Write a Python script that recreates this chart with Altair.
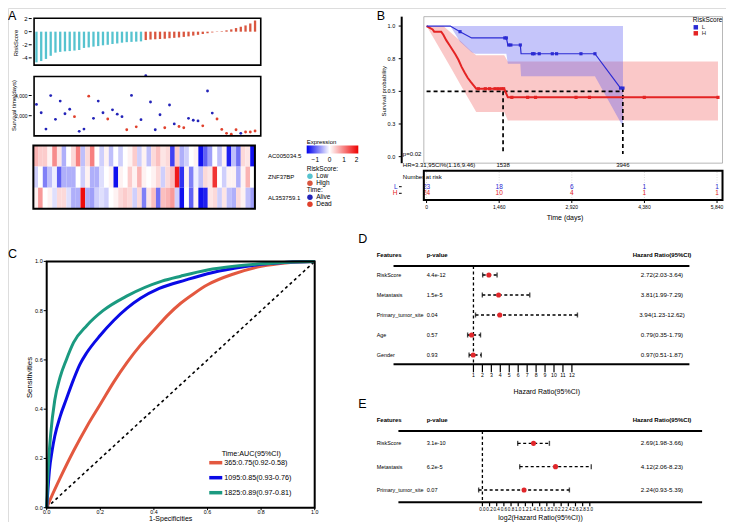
import altair as alt
import numpy as np
import pandas as pd

W, H = 718, 514
FONT = "Liberation Sans"


def P(v):
    # reference pixel -> canvas pixel (page has an 8px margin)
    return round(v - 8, 2)


# ------------------------------------------------------------------ DATA
# Panel A : risk score, survival time, expression heatmap (47 patients, sorted by risk)
risk_low = [-4.68, -4.48, -4.16, -3.68, -3.20, -3.08, -3.00, -2.96, -2.88, -2.80, -2.48, -2.40,
            -2.28, -2.20, -2.08, -2.00, -1.88, -1.80, -1.68, -1.60, -1.56, -1.52, -1.48]
risk_high = [-1.28, -1.20, -1.16, -1.12, -1.08, -1.00, -0.94, -0.88, -0.80, -0.72, -0.60, -0.48,
             -0.36, -0.24, -0.12, -0.05, 0.08, 0.20, 0.35, 0.55, 0.75, 0.95, 1.25, 1.70]
surv_days = [3121, 2290, 676, 3990, 1643, 3449, 2193, 2638, 1900, 454, 676, 3930, 1739, 3449, 2290,
             1675, 2580, 2155, 1900, 610, 4005, 900, 1610, 5960, 3353, 610, 2097, 804, 3063, 1190,
             934, 804, 1739, 1546, 1482, 997, 4444, 2258, 1675, 643, 258, 161, 610, 258, 387, 387, 483]
surv_status = ["Alive", "Alive", "Alive", "Alive", "Alive", "Alive", "Alive", "Alive", "Dead", "Alive",
               "Alive", "Dead", "Alive", "Alive", "Alive", "Dead", "Alive", "Alive", "Alive", "Dead",
               "Alive", "Dead", "Alive", "Alive", "Alive", "Alive", "Alive", "Dead", "Alive", "Alive",
               "Dead", "Dead", "Alive", "Alive", "Alive", "Dead", "Alive", "Alive", "Dead", "Dead",
               "Dead", "Dead", "Dead", "Alive", "Dead", "Dead", "Dead"]
gene_names = ["AC005034.5", "ZNF37BP", "AL353759.1"]
expr_AC005034_5 = [0.6, 0.4, 0.4, 0.1, 0.9, 0.2, -0.5, 0.0, 0.3, 1.0, -0.4, 0.3, 1.0, 0.0, -0.3, 0.1,
                   -0.4, 0.0, -0.3, 0.0, 0.1, 0.4, -0.3, 0.1, -0.4, 0.3, 0.5, 0.2, 0.3, -1.2, 0.4, -0.5,
                   -0.3, 0.0, 0.1, -1.5, -1.0, -0.6, 0.0, -0.4, 0.1, -1.4, -0.4, -0.9, 0.3, 0.2, -1.5]
expr_ZNF37BP = [-0.3, 0.0, -0.8, -0.4, -0.1, -1.0, -0.5, -0.5, -0.5, 0.0, -0.3, 0.1, -0.5, -0.5, -0.2, 0.0,
                0.1, -1.5, 0.1, 0.0, 0.4, 0.1, 0.6, 0.1, 0.0, 0.1, 0.3, -0.3, 0.3, 0.5, 1.8, -1.3,
                0.1, -0.8, -0.1, -0.4, 0.3, 0.2, 1.6, 0.0, -0.3, 0.1, 0.1, -0.5, 0.1, 0.6, 0.0]
expr_AL353759_1 = [0.1, 0.8, 0.0, 0.1, -0.2, 0.3, 0.3, -0.2, -0.5, -0.5, 1.9, -0.5, -0.6, -0.3, -0.2, -0.3,
                   0.0, 0.1, 0.3, 0.4, 0.3, -0.3, 0.3, -0.8, 0.2, 0.5, -0.9, 0.5, 0.6, 0.8, -0.3, -1.5,
                   0.0, -1.0, 0.1, -1.5, -1.4, 0.2, 0.3, -0.3, 0.2, -0.4, -0.5, 0.3, 0.1, -0.4, -0.6]
risk_groups = ["Low", "High"]
riskA_ticks, riskA_labels = [-4, -2, 0, 2], ["-4", "-2", "0", "2"]
survA_ticks, survA_labels = [2000, 4000], ["2,000", "4,000"]

# Panel B : Kaplan-Meier
km_L_day = [0, 477, 673, 906, 1573, 1604, 1634, 1885, 1900, 3385, 3900, 3949]
km_L_surv = [1.0, 1.0, 0.957, 0.909, 0.909, 0.909, 0.855, 0.855, 0.788, 0.788, 0.525, 0.525]
km_L_cens_day = [673, 1573, 1604, 1653, 1695, 1885, 2130, 2161, 2265, 2528, 2614, 3104, 3385, 3900, 3949]
km_L_cens_surv = [0.957, 0.909, 0.909, 0.855, 0.855, 0.855, 0.788, 0.788, 0.788, 0.788, 0.788, 0.788,
                  0.788, 0.525, 0.525]
km_L_ci_day = [0, 477, 673, 906, 979, 1604, 1634, 1885, 1900, 3385, 3949]
km_L_ci_lo = [1.0, 1.0, 0.88, 0.80, 0.788, 0.788, 0.711, 0.711, 0.616, 0.616, 0.229]
km_L_ci_hi = [1.0, 1.0, 1.0, 1.0, 1.0, 1.0, 1.0, 1.0, 1.0, 1.0, 1.0]

km_H_day = [0, 122, 153, 294, 337, 398, 459, 520, 581, 643, 704, 765, 826, 888, 949, 998, 1561, 1634, 5859]
km_H_surv = [1.0, 0.974, 0.957, 0.957, 0.933, 0.890, 0.855, 0.819, 0.783, 0.740, 0.687, 0.644, 0.604,
             0.573, 0.544, 0.52, 0.52, 0.454, 0.454]
km_H_cens_day = [1041, 1181, 1267, 1377, 1438, 1500, 1549, 1714, 2032, 2191, 3005, 3275, 4377, 5859]
km_H_cens_surv = [0.52, 0.52, 0.52, 0.52, 0.52, 0.52, 0.52, 0.454, 0.454, 0.454, 0.454, 0.454, 0.454, 0.454]
km_H_ci_day = [0, 153, 337, 520, 704, 888, 998, 1561, 1634, 5859]
km_H_ci_lo = [1.0, 0.90, 0.78, 0.66, 0.535, 0.415, 0.341, 0.341, 0.277, 0.277]
km_H_ci_hi = [1.0, 1.0, 1.0, 0.94, 0.878, 0.81, 0.776, 0.776, 0.728, 0.728]

median_L, median_H = 3946, 1538
km_ticks, km_labels = [0, 0.25, 0.5, 0.75, 1.0], ["0.0", "0.3", "0.5", "0.8", "1.0"]
risk_days = [0, 1460, 2920, 4380, 5840]
risk_day_labels = ["0", "1,460", "2,920", "4,380", "5,840"]
at_risk_L = [23, 18, 6, 1, 1]
at_risk_H = [24, 10, 4, 1, 1]

# Panel C : time-dependent ROC
roc_labels = ["365:0.75(0.92-0.58)", "1095:0.85(0.93-0.76)", "1825:0.89(0.97-0.81)"]
roc365_fpr = [0, 0.02, 0.05, 0.1, 0.15, 0.2, 0.25, 0.3, 0.35, 0.4, 0.45, 0.5, 0.55, 0.6, 0.7, 0.8, 0.9, 1.0]
roc365_tpr = [0, 0.05, 0.12, 0.23, 0.33, 0.42, 0.51, 0.59, 0.66, 0.72, 0.78, 0.83, 0.87, 0.905, 0.95,
              0.98, 0.995, 1.0]
roc1095_fpr = [0, 0.005, 0.01, 0.02, 0.03, 0.05, 0.073, 0.1, 0.123, 0.15, 0.2, 0.25, 0.3, 0.35, 0.42,
               0.52, 0.6, 0.7, 0.8, 0.9, 1.0]
roc1095_tpr = [0, 0.08, 0.15, 0.23, 0.29, 0.37, 0.44, 0.52, 0.58, 0.63, 0.70, 0.76, 0.81, 0.85, 0.89,
               0.925, 0.95, 0.972, 0.988, 0.997, 1.0]
roc1825_fpr = [0, 0.003, 0.008, 0.015, 0.03, 0.05, 0.073, 0.1, 0.15, 0.21, 0.3, 0.43, 0.5, 0.6, 0.7,
               0.8, 0.9, 1.0]
roc1825_tpr = [0, 0.10, 0.20, 0.30, 0.436, 0.53, 0.60, 0.67, 0.74, 0.80, 0.86, 0.92, 0.94, 0.965,
               0.98, 0.99, 0.997, 1.0]
roc_ticks, roc_tick_labels = [0, 0.2, 0.4, 0.6, 0.8, 1.0], ["0.0", "0.2", "0.4", "0.6", "0.8", "1.0"]

# Panel D : univariate Cox
feat_D = ["RiskScore", "Metastasis", "Primary_tumor_site", "Age", "Gender"]
p_D = ["4.4e-12", "1.5e-5", "0.04", "0.57", "0.93"]
hr_D = [2.72, 3.81, 3.94, 0.79, 0.97]
lo_D = [2.03, 1.99, 1.23, 0.35, 0.51]
hi_D = [3.64, 7.29, 12.62, 1.79, 1.87]
ticks_D = [1, 2, 3, 4, 5, 6, 7, 8, 9, 10, 11, 12]
tick_labels_D = ["1", "2", "3", "4", "5", "6", "7", "8", "9", "10", "11", "12"]

# Panel E : multivariate Cox
feat_E = ["RiskScore", "Metastasis", "Primary_tumor_site"]
p_E = ["3.1e-10", "6.2e-5", "0.07"]
hr_E = [2.69, 4.12, 2.24]
lo_E = [1.98, 2.06, 0.93]
hi_E = [3.66, 8.23, 5.39]
ticks_E = [0.0, 0.2, 0.4, 0.6, 0.8, 1.0, 1.2, 1.4, 1.6, 1.8, 2.0, 2.2, 2.4, 2.6, 2.8, 3.0]
tick_labels_E = ["0.0", "0.2", "0.4", "0.6", "0.8", "1.0", "1.2", "1.4", "1.6", "1.8", "2.0", "2.2",
                 "2.4", "2.6", "2.8", "3.0"]

# ------------------------------------------------------------------ STYLE
CYAN, SALMON = "#56C3CF", "#D9563F"
ALIVE, DEAD = "#2323B8", "#E0402C"
KM_BLUE, KM_RED = "#2B2BD3", "#E42424"
BAND_BLUE, BAND_RED = "#5A5AF0", "#F06262"
CORAL, ROC_BLUE, TEAL = "#E3583F", "#0A0AE6", "#1B9A80"
FOREST_RED = "#E0262A"

dummy = pd.DataFrame({"d": [0]})


def legend(**kw):
    base = dict(orient="none", titleFont=FONT, labelFont=FONT, titleFontWeight="normal",
                titleColor="black", labelColor="black", titleFontSize=6.5, labelFontSize=6.5,
                padding=0, titlePadding=1, rowPadding=0, labelOffset=3, symbolStrokeWidth=0)
    base.update(kw)
    return alt.Legend(**base)


def frame(x0, x1, y0, y1, sw=1.5, color="black"):
    return alt.Chart(dummy).mark_rect(fillOpacity=0, stroke=color, strokeWidth=sw).encode(
        x=alt.XDatum(x0, axis=None), x2=alt.X2Datum(x1),
        y=alt.YDatum(y0, axis=None), y2=alt.Y2Datum(y1))


def label(text, x, y, size=6, align="left", weight="normal", color="black", baseline="middle", angle=0):
    return alt.Chart(dummy).mark_text(text=text, fontSize=size, align=align, baseline=baseline,
                                      fontWeight=weight, color=color, font=FONT, angle=angle).encode(
        x=alt.value(P(x)), y=alt.value(P(y)))


def y_axis(vals, labs, ax_x, size=6, tick=3, pad=1.2, width=1):
    df = pd.DataFrame({"v": vals, "lab": labs})
    t = alt.Chart(df).mark_rule(color="black", strokeWidth=width).encode(
        x=alt.value(P(ax_x - tick)), x2=alt.value(P(ax_x)), y=alt.Y("v:Q", axis=None))
    lab = alt.Chart(df).mark_text(align="right", baseline="middle", fontSize=size, font=FONT).encode(
        x=alt.value(P(ax_x - tick - pad)), y=alt.Y("v:Q", axis=None), text="lab:N")
    return [t, lab]


def x_axis(vals, labs, ax_y, size=6, tick=3, pad=1, width=1):
    df = pd.DataFrame({"v": vals, "lab": labs})
    t = alt.Chart(df).mark_rule(color="black", strokeWidth=width).encode(
        x=alt.X("v:Q", axis=None), y=alt.value(P(ax_y)), y2=alt.value(P(ax_y + tick)))
    lab = alt.Chart(df).mark_text(align="center", baseline="top", fontSize=size, font=FONT).encode(
        x=alt.X("v:Q", axis=None), y=alt.value(P(ax_y + tick + pad)), text="lab:N")
    return [t, lab]


# ------------------------------------------------------------------ PANEL A
dfA = pd.DataFrame({"idx": np.arange(1, len(surv_days) + 1), "risk": risk_low + risk_high,
                    "group": [risk_groups[0]] * len(risk_low) + [risk_groups[1]] * len(risk_high),
                    "days": surv_days, "status": surv_status})
xA = dict(domain=[0.5, 48.2], range=[P(31.7), P(269.3)])

a1_bars = alt.Chart(dfA).mark_rule(strokeWidth=2.3).encode(
    x=alt.X("idx:Q", scale=alt.Scale(**xA), axis=None),
    y=alt.Y("risk:Q", scale=alt.Scale(domain=[-5.1, 2.05], range=[P(71), P(12)]), axis=None),
    y2=alt.Y2Datum(0),
    color=alt.Color("group:N", scale=alt.Scale(domain=risk_groups, range=[CYAN, SALMON]), legend=None))
A1 = alt.layer(a1_bars, frame(0.5, 48.2, -5.1, 2.05, sw=1.6),
               *y_axis(riskA_ticks, riskA_labels, 31.7, size=6))

# key for the risk-group legend (symbols drawn off the canvas, only the legend shows)
risk_key = alt.Chart(pd.DataFrame({"group": risk_groups})).mark_circle(opacity=1).encode(
    x=alt.value(-60), y=alt.value(-60),
    color=alt.Color("group:N", scale=alt.Scale(domain=risk_groups, range=[CYAN, SALMON]),
                    legend=legend(title="RiskScore:", legendX=P(306.7), legendY=P(165.5),
                                  symbolType="circle", symbolSize=30)))

a2_pts = alt.Chart(dfA).mark_circle(size=8, opacity=1).encode(
    x=alt.X("idx:Q", scale=alt.Scale(**xA), axis=None),
    y=alt.Y("days:Q", scale=alt.Scale(domain=[0, 5880], range=[P(135.9), P(75.3)]), axis=None),
    color=alt.Color("status:N", scale=alt.Scale(domain=["Alive", "Dead"], range=[ALIVE, DEAD]),
                    legend=legend(title="Time:", legendX=P(306.7), legendY=P(186.5),
                                  symbolType="circle", symbolSize=30)))
A2 = alt.layer(a2_pts, frame(0.5, 48.2, 0, 5880, sw=1.6),
               *y_axis(survA_ticks, survA_labels, 31.7, size=5))

dfH = pd.DataFrame({"idx": np.tile(np.arange(1, 48), 3), "row": np.repeat([1, 2, 3], 47),
                    "value": expr_AC005034_5 + expr_ZNF37BP + expr_AL353759_1})
heat = alt.Chart(dfH).transform_calculate(
    x0="datum.idx - 0.5", x1="datum.idx + 0.5", y0="datum.row - 0.5", y1="datum.row + 0.5"
).mark_rect().encode(
    x=alt.X("x0:Q", scale=alt.Scale(domain=[0.5, 47.5], range=[P(31), P(266.7)]), axis=None),
    x2="x1:Q",
    y=alt.Y("y0:Q", scale=alt.Scale(domain=[0.5, 3.5], range=[P(135), P(219.3)]), axis=None),
    y2="y1:Q",
    color=alt.Color("value:Q",
                    scale=alt.Scale(domain=[-1.6, 0, 2], range=["#0000EE", "#FFFFFF", "#EE0000"],
                                    interpolate="rgb"),
                    legend=legend(title="Expression", direction="horizontal", legendX=P(306.7),
                                  legendY=P(138.5), gradientLength=51.6, gradientThickness=8,
                                  values=[-1, 0, 1, 2], titleFontSize=6, labelFontSize=6.5,
                                  gradientStrokeWidth=0, labelOffset=3)))
gene_lab = alt.Chart(pd.DataFrame({"row": [1, 2, 3], "gene": gene_names})).mark_text(
    align="left", baseline="middle", fontSize=6, font=FONT).encode(
    x=alt.value(P(268)), y=alt.Y("row:Q", axis=None), text="gene:N")
A3 = alt.layer(heat, frame(0.5, 47.5, 0.5, 3.5, sw=2), gene_lab)

# ------------------------------------------------------------------ PANEL B
xB = dict(domain=[-55, 5950], range=[P(401.7), P(725)])
yB = alt.Scale(domain=[-0.05, 1.072], range=[P(169.7), P(13)])

dfLci = pd.DataFrame({"day": km_L_ci_day, "lo": km_L_ci_lo, "hi": km_L_ci_hi})
dfHci = pd.DataFrame({"day": km_H_ci_day, "lo": km_H_ci_lo, "hi": km_H_ci_hi})
bandH = alt.Chart(dfHci).mark_area(color=BAND_RED, opacity=0.35).encode(
    x=alt.X("day:Q", scale=alt.Scale(**xB), axis=None),
    y=alt.Y("lo:Q", scale=yB, axis=None), y2="hi:Q")
bandL = alt.Chart(dfLci).mark_area(color=BAND_BLUE, opacity=0.35).encode(
    x=alt.X("day:Q", axis=None), y=alt.Y("lo:Q", axis=None), y2="hi:Q")
lineH = alt.Chart(pd.DataFrame({"day": km_H_day, "surv": km_H_surv})).mark_line(
    color=KM_RED, strokeWidth=2).encode(x=alt.X("day:Q", axis=None), y=alt.Y("surv:Q", axis=None))
lineL = alt.Chart(pd.DataFrame({"day": km_L_day, "surv": km_L_surv})).mark_line(
    color=KM_BLUE, strokeWidth=1.2).encode(x=alt.X("day:Q", axis=None), y=alt.Y("surv:Q", axis=None))
dfCens = pd.DataFrame({"day": km_L_cens_day + km_H_cens_day, "surv": km_L_cens_surv + km_H_cens_surv,
                       "group": ["L"] * len(km_L_cens_day) + ["H"] * len(km_H_cens_day)})
cens = alt.Chart(dfCens).mark_point(shape="square", filled=True, size=10, opacity=1).encode(
    x=alt.X("day:Q", axis=None), y=alt.Y("surv:Q", axis=None),
    color=alt.Color("group:N", scale=alt.Scale(domain=["L", "H"], range=[KM_BLUE, KM_RED]),
                    legend=legend(title="RiskScore", legendX=P(692.8), legendY=P(17.3),
                                  symbolType="square", symbolSize=20, labelColor="#333333",
                                  titlePadding=0.5, labelFontSize=6)))
dash = dict(strokeDash=[4, 3], strokeWidth=1.7, color="black")
hmed = alt.Chart(dummy).mark_rule(**dash).encode(
    x=alt.XDatum(0, axis=None), x2=alt.X2Datum(median_L), y=alt.YDatum(0.5, axis=None))
vmedH = alt.Chart(dummy).mark_rule(**dash).encode(
    x=alt.XDatum(median_H, axis=None), y=alt.YDatum(0.5, axis=None), y2=alt.Y2Datum(0.02))
vmedL = alt.Chart(dummy).mark_rule(**dash).encode(
    x=alt.XDatum(median_L, axis=None), y=alt.YDatum(0.525, axis=None), y2=alt.Y2Datum(0.02))
tmedH = alt.Chart(dummy).mark_text(text=str(median_H), fontSize=6, font=FONT).encode(
    x=alt.XDatum(median_H, axis=None), y=alt.value(P(164.5)))
tmedL = alt.Chart(dummy).mark_text(text=str(median_L), fontSize=6, font=FONT).encode(
    x=alt.XDatum(median_L, axis=None), y=alt.value(P(164.5)))
km_domain = alt.Chart(dummy).mark_rule(color="black", strokeWidth=2).encode(
    x=alt.value(P(401.7)), y=alt.YDatum(-0.05, axis=None), y2=alt.Y2Datum(1.072))
B_km = alt.layer(bandH, bandL, frame(-55, 5950, -0.05, 1.072, sw=0.7, color="#9a9a9a"),
                 hmed, vmedH, vmedL, lineH, lineL, cens, tmedH, tmedL, km_domain,
                 *y_axis(km_ticks, km_labels, 401.7, size=5.5, pad=3.5))

dfRisk = pd.DataFrame({"day": risk_days + risk_days, "n": at_risk_L + at_risk_H,
                       "row": [1] * len(risk_days) + [2] * len(risk_days),
                       "group": ["L"] * len(risk_days) + ["H"] * len(risk_days)})
tbl_text = alt.Chart(dfRisk).mark_text(fontSize=6.5, font=FONT).encode(
    x=alt.X("day:Q", scale=alt.Scale(**xB), axis=None),
    y=alt.Y("row:Q", scale=alt.Scale(domain=[1, 2], range=[P(186.7), P(193.3)]), axis=None),
    text="n:Q",
    color=alt.Color("group:N", scale=alt.Scale(domain=["L", "H"], range=[KM_BLUE, KM_RED]), legend=None))
dfRows = pd.DataFrame({"row": [1, 2], "group": ["L", "H"]})
tbl_rowlab = alt.Chart(dfRows).mark_text(fontSize=6.5, font=FONT, align="right").encode(
    x=alt.value(P(397.5)), y=alt.Y("row:Q", axis=None), text="group:N",
    color=alt.Color("group:N", scale=alt.Scale(domain=["L", "H"], range=[KM_BLUE, KM_RED]), legend=None))
tbl_rowtick = alt.Chart(dfRows).mark_rule(color="black", strokeWidth=1).encode(
    x=alt.value(P(399)), x2=alt.value(P(401.7)), y=alt.Y("row:Q", axis=None))
tbl_grid = alt.Chart(pd.DataFrame({"day": risk_days})).mark_rule(
    color="#c4c4c4", strokeDash=[1, 1.5], strokeWidth=0.6).encode(
    x=alt.X("day:Q", axis=None), y=alt.value(P(172)), y2=alt.value(P(199)))
tbl_frame = alt.Chart(dummy).mark_rect(fillOpacity=0, stroke="black", strokeWidth=2).encode(
    x=alt.XDatum(-55, axis=None), x2=alt.X2Datum(5950), y=alt.value(P(170.7)), y2=alt.value(P(200)))
B_tab = alt.layer(tbl_grid, tbl_text, tbl_rowlab, tbl_rowtick, tbl_frame,
                  *x_axis(risk_days, risk_day_labels, 200, size=5, tick=3, pad=1.5))

# ------------------------------------------------------------------ PANEL C
dfROC = pd.concat([
    pd.DataFrame({"fpr": roc365_fpr, "tpr": roc365_tpr, "curve": roc_labels[0]}),
    pd.DataFrame({"fpr": roc1095_fpr, "tpr": roc1095_tpr, "curve": roc_labels[1]}),
    pd.DataFrame({"fpr": roc1825_fpr, "tpr": roc1825_tpr, "curve": roc_labels[2]}),
], ignore_index=True)
roc = alt.Chart(dfROC).mark_line(strokeWidth=3, interpolate="monotone").encode(
    x=alt.X("fpr:Q", scale=alt.Scale(domain=[0, 1], range=[P(46.7), P(314.7)]), axis=None),
    y=alt.Y("tpr:Q", scale=alt.Scale(domain=[0, 1], range=[P(507.7), P(261.4)]), axis=None),
    color=alt.Color("curve:N", scale=alt.Scale(domain=roc_labels, range=[CORAL, ROC_BLUE, TEAL]),
                    legend=legend(title="Time:AUC(95%CI)", legendX=P(211.25), legendY=P(449.5),
                                  symbolType="M-2.6,0H2.6", symbolSize=25, symbolStrokeWidth=3.5,
                                  titleFontSize=7.2, labelFontSize=7.2, titleAnchor="middle",
                                  labelOffset=4, titlePadding=1.5)))
diag = alt.Chart(pd.DataFrame({"fpr": [0, 1], "tpr": [0, 1]})).mark_line(
    strokeDash=[3, 3], strokeWidth=1.6, color="black").encode(
    x=alt.X("fpr:Q", axis=None), y=alt.Y("tpr:Q", axis=None))
C_roc = alt.layer(diag, roc, frame(0, 1, 0, 1, sw=2),
                  *x_axis(roc_ticks, roc_tick_labels, 507.7, size=5.3, tick=2.5, pad=0),
                  *y_axis(roc_ticks, roc_tick_labels, 46.7, size=5.5, pad=1))


# ------------------------------------------------------------------ PANELS D / E
def forest(feats, pvals, hr, lo, hi, log, xdom, y_hdr, y_last, y_line, y_axis_px, ticks, tick_labs,
           tsize, tfont):
    n = len(feats)
    df = pd.DataFrame({"row": np.arange(1, n + 1), "feat": feats, "p": pvals,
                       "hr": hr, "lo": lo, "hi": hi})
    df["txt"] = [f"{a:.2f}({b:.2f}-{c:.2f})" for a, b, c in zip(hr, lo, hi)]
    tf = np.log2 if log else (lambda v: np.asarray(v, dtype=float))
    df["est"] = tf(df["hr"])
    df["l"] = tf(df["lo"])
    df["h"] = tf(df["hi"])
    xs = alt.Scale(domain=xdom, range=[P(375), P(733)])
    ys = alt.Scale(domain=[0, n], range=[P(y_hdr), P(y_last)])
    base = alt.Chart(df)
    ci = base.mark_rule(strokeDash=[3, 2.5], strokeWidth=1.3, color="black").encode(
        x=alt.X("l:Q", scale=xs, axis=None), x2="h:Q", y=alt.Y("row:Q", scale=ys, axis=None))
    cap_l = base.mark_tick(orient="vertical", size=5, thickness=1.4, color="black").encode(
        x=alt.X("l:Q", axis=None), y=alt.Y("row:Q", axis=None))
    cap_h = base.mark_tick(orient="vertical", size=5, thickness=1.4, color="black").encode(
        x=alt.X("h:Q", axis=None), y=alt.Y("row:Q", axis=None))
    est = base.mark_point(filled=True, size=26, color=FOREST_RED, opacity=1).encode(
        x=alt.X("est:Q", axis=None), y=alt.Y("row:Q", axis=None))
    ref = 0 if log else 1
    vref = alt.Chart(dummy).mark_rule(strokeDash=[3, 2.5], strokeWidth=1.3, color="black").encode(
        x=alt.XDatum(ref, axis=None), y=alt.value(P(y_line)), y2=alt.value(P(y_axis_px)))
    hline = alt.Chart(dummy).mark_rule(strokeWidth=2, color="black").encode(
        x=alt.XDatum(xdom[0], axis=None), x2=alt.X2Datum(xdom[1]), y=alt.value(P(y_line)))
    aline = alt.Chart(dummy).mark_rule(strokeWidth=2, color="black").encode(
        x=alt.XDatum(xdom[0], axis=None), x2=alt.X2Datum(xdom[1]), y=alt.value(P(y_axis_px)))
    t_feat = base.mark_text(align="left", fontSize=5.4, font=FONT).encode(
        x=alt.value(P(376.7)), y=alt.Y("row:Q", axis=None), text="feat:N")
    t_p = base.mark_text(align="left", fontSize=5.6, font=FONT).encode(
        x=alt.value(P(426.7)), y=alt.Y("row:Q", axis=None), text="p:N")
    t_hr = base.mark_text(align="center", fontSize=6.2, font=FONT).encode(
        x=alt.value(P(662)), y=alt.Y("row:Q", axis=None), text="txt:N")
    hdr = alt.Chart(pd.DataFrame({"row": [0]}))
    h1 = hdr.mark_text(text="Features", align="left", fontSize=6, fontWeight="bold", font=FONT).encode(
        x=alt.value(P(376.7)), y=alt.Y("row:Q", axis=None))
    h2 = hdr.mark_text(text="p-value", align="left", fontSize=6, fontWeight="bold", font=FONT).encode(
        x=alt.value(P(426.7)), y=alt.Y("row:Q", axis=None))
    h3 = hdr.mark_text(text="Hazard Ratio(95%CI)", align="center", fontSize=6, fontWeight="bold",
                       font=FONT).encode(x=alt.value(P(662)), y=alt.Y("row:Q", axis=None))
    axis_parts = x_axis(ticks, tick_labs, y_axis_px, size=tfont, tick=tsize, pad=0.8, width=1.2)
    return alt.layer(ci, cap_l, cap_h, vref, hline, aline, est, t_feat, t_p, t_hr, h1, h2, h3,
                     *axis_parts)


D_for = forest(feat_D, p_D, hr_D, lo_D, hi_D, False, [-7.93, 25.13], 255, 355, 266, 364.3,
               ticks_D, tick_labels_D, 8, 5.2)
E_for = forest(feat_E, p_E, hr_E, lo_E, hi_E, True, [-2.346, 6.137], 420, 490, 431, 502.3,
               ticks_E, tick_labels_E, 4, 4.6)

# ------------------------------------------------------------------ TEXT (letters, axis titles)
notes = alt.layer(
    label("A", 8, 19.5, size=12.5, baseline="alphabetic"),
    label("B", 376.7, 19.5, size=12.5, baseline="alphabetic"),
    label("C", 8, 258.3, size=12.5, baseline="alphabetic"),
    label("D", 358.3, 243, size=12.5, baseline="alphabetic"),
    label("E", 358.3, 408.3, size=12.5, baseline="alphabetic"),
    label("RiskScore", 16, 43, size=5.8, align="center", angle=270),
    label("Survival time(days)", 13.5, 105.5, size=6, align="center", angle=270),
    label("Survival probability", 384, 91.3, size=6, align="center", angle=270),
    label("Number at risk", 402.8, 176.7, size=6),
    label("p=0.02", 402.8, 154, size=6),
    label("HR=3.31,95CI%(1.16,9.46)", 402.8, 164.5, size=6),
    label("Time (days)", 565, 217.5, size=7, align="center"),
    label("Sensitivities", 29.5, 377.5, size=7.8, align="center", angle=270),
    label("1-Specificities", 170.7, 518.9, size=7, align="center"),
    label("Hazard Ratio(95%CI)", 546.7, 391.7, size=7, align="center"),
    label("log2(Hazard Ratio(95%CI))", 540.5, 517.6, size=7, align="center"),
)

chart = alt.layer(A1, risk_key, A2, A3, B_km, B_tab, C_roc, D_for, E_for, notes).resolve_scale(
    x="independent", y="independent", color="independent"
).properties(
    width=W, height=H, padding=0, autosize=alt.AutoSizeParams(type="none")
).configure_view(strokeWidth=0).configure(font=FONT)

chart.save("out.html", embed_options={"renderer": "svg", "actions": False})
